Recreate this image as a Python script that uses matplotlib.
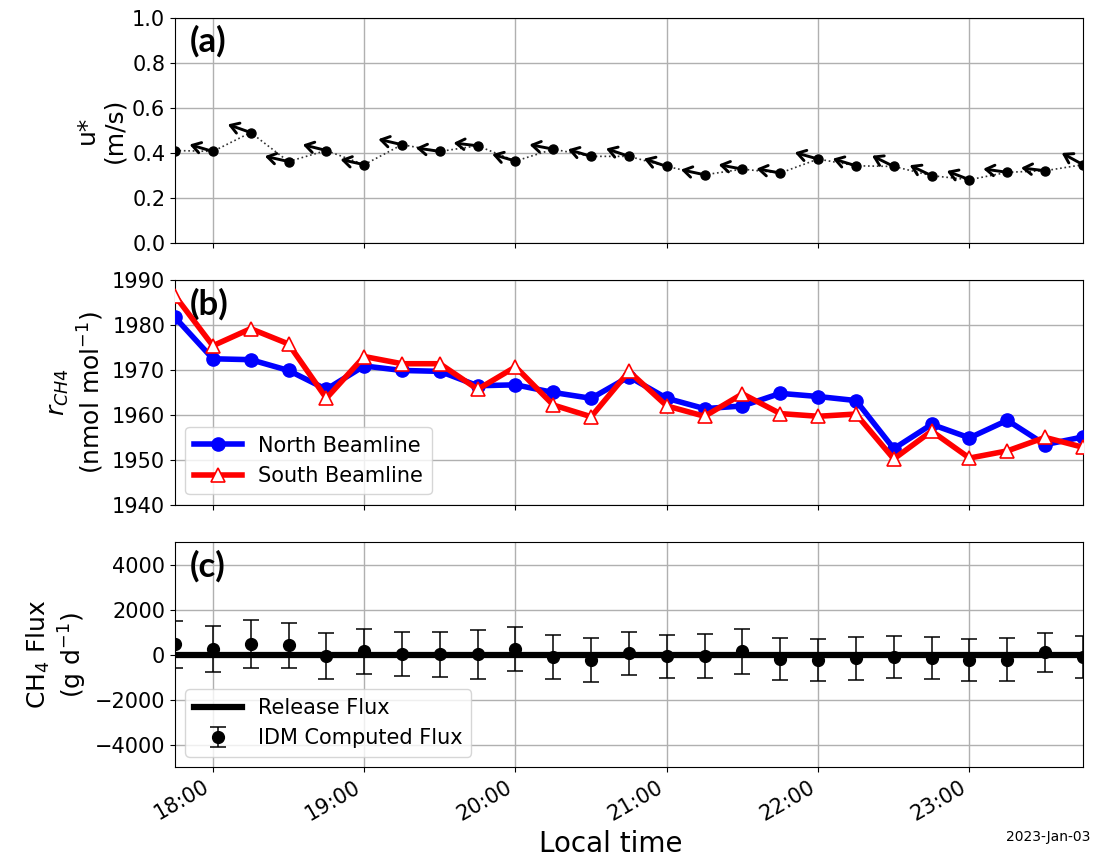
import numpy as np
import pandas as pd
import matplotlib
matplotlib.use("Agg")
import matplotlib.pyplot as plt
import matplotlib.dates as mdates

# ---------------- data ----------------
times = pd.date_range("2023-01-03 17:45", "2023-01-03 23:45", freq="15min")

u_star = [0.41, 0.406, 0.49, 0.361, 0.41, 0.347, 0.436, 0.406, 0.431, 0.363,
          0.416, 0.384, 0.384, 0.339, 0.302, 0.327, 0.31, 0.372, 0.342, 0.339,
          0.298, 0.28, 0.313, 0.32, 0.347]

# wind arrow direction (degrees, counter-clockwise from east)
wind_angle = [165, 163.6, 160.5, 167.4, 166, 167.6, 167, 171.6, 173.2, 163.7,
              169.2, 163.4, 161.3, 161.3, 167.9, 169.3, 170, 164.3, 163.1, 153.8,
              154.5, 159, 171.9, 173.2, 151.2]

north_ch4 = [1981.7, 1972.5, 1972.3, 1969.9, 1965.7, 1970.9, 1969.9, 1969.7, 1966.5, 1966.7,
             1965.0, 1963.7, 1968.5, 1963.7, 1961.4, 1962.0, 1964.8, 1964.1, 1963.2, 1952.5,
             1957.9, 1954.9, 1958.8, 1953.4, 1955.1]

south_ch4 = [1986.5, 1975.4, 1979.2, 1975.8, 1963.7, 1973.0, 1971.4, 1971.4, 1965.7, 1970.7,
             1962.2, 1959.6, 1969.7, 1962.0, 1959.7, 1964.7, 1960.3, 1959.7, 1960.2, 1950.2,
             1956.4, 1950.4, 1952.0, 1955.0, 1952.8]

idm_flux = [458, 249, 480, 413, -44, 155, 44, 13, 22, 242,
            -98, -253, 67, -67, -44, 140, -186, -246, -171, -104,
            -149, -246, -218, 102, -89]

idm_err = [1050, 1022, 1075, 1008, 1022, 1000, 977, 1008, 1089, 971,
           969, 978, 955, 955, 978, 984, 925, 927, 940, 918,
           918, 927, 955, 876, 933]

release_flux = [0] * len(times)

# ---------------- figure ----------------
plt.rcParams['font.family'] = ['DejaVu Sans']
plt.rcParams['mathtext.fontset'] = 'dejavusans'

fig, axes = plt.subplots(3, 1, sharex=True, figsize=(10.98, 8.64), dpi=100)
fig.subplots_adjust(left=0.1594, right=0.9863, top=0.9792, bottom=0.1123, hspace=0.167)
ax1, ax2, ax3 = axes

TICK_FS = 15
LAB_FS = 18
LEG_FS = 15
panel_font = dict(family=['Lato', 'DejaVu Sans'], fontsize=25, fontweight='bold')

# ---- (a) u* with wind arrows ----
ax1.plot(times, u_star, color='#333333', ls=':', lw=1.2, marker='o', ms=6.5,
         mfc='k', mec='k', zorder=3)
L = 17.5
for t, u, ang in zip(times, u_star, wind_angle):
    dx = L * np.cos(np.deg2rad(ang))
    dy = L * np.sin(np.deg2rad(ang))
    ann = ax1.annotate('', xy=(t, u), xytext=(dx, dy), textcoords='offset points',
                       arrowprops=dict(arrowstyle='<-,head_length=0.6,head_width=0.38',
                                       color='k', lw=2.1, shrinkA=0, shrinkB=0))
    ann.arrow_patch.set_clip_box(ax1.bbox)
    ann.arrow_patch.set_clip_on(True)
ax1.set_ylim(0, 1.0)
ax1.set_yticks(np.arange(0, 1.01, 0.2))
ax1.set_ylabel("u*\n(m/s)", fontsize=LAB_FS)
ax1.text(0.016, 0.97, '(a)', transform=ax1.transAxes, va='top', ha='left', **panel_font)

# ---- (b) CH4 mixing ratio ----
ax2.plot(times, north_ch4, color='blue', lw=4, marker='o', ms=9.5, label='North Beamline', zorder=3)
ax2.plot(times, south_ch4, color='red', lw=4, marker='^', ms=10.5, mfc='white', mec='red',
         mew=1.2, label='South Beamline', zorder=4)
ax2.set_ylim(1940, 1990)
ax2.set_yticks(np.arange(1940, 1991, 10))
ax2.set_ylabel("$r_{CH4}$\n(nmol mol$^{-1}$)", fontsize=LAB_FS)
ax2.legend(loc='lower left', fontsize=LEG_FS, framealpha=0.8, handlelength=2.3)
ax2.text(0.016, 0.965, '(b)', transform=ax2.transAxes, va='top', ha='left', **panel_font)

# ---- (c) CH4 flux ----
ax3.plot(times, release_flux, color='k', lw=4.5, label='Release Flux', zorder=2)
ax3.errorbar(times, idm_flux, yerr=idm_err, fmt='o', color='k', ms=8.5, capsize=6,
             elinewidth=1.1, capthick=1.1, label='IDM Computed Flux', zorder=3)
ax3.set_ylim(-5000, 5000)
ax3.set_yticks(np.arange(-4000, 4001, 2000))
ax3.set_ylabel("CH$_4$ Flux\n(g d$^{-1}$)", fontsize=LAB_FS)
ax3.legend(loc='lower left', fontsize=LEG_FS, framealpha=0.8, handlelength=2.3)
ax3.text(0.016, 0.965, '(c)', transform=ax3.transAxes, va='top', ha='left', **panel_font)

for ax in axes:
    ax.grid(True, color='#b0b0b0', lw=1.0)
    ax.set_axisbelow(True)
    ax.tick_params(labelsize=TICK_FS)

ax3.set_xlim(times[0], times[-1])
ax3.xaxis.set_major_locator(mdates.HourLocator())
ax3.xaxis.set_major_formatter(mdates.DateFormatter('%H:%M'))
plt.setp(ax3.get_xticklabels(), rotation=30, ha='right')
ax3.set_xlabel("Local time", fontsize=20)
ax3.xaxis.label.set_x(0.48)

fig.text(0.993, 0.031, "2023-Jan-03", ha='right', va='center', fontsize=10)

fig.savefig("out.png", dpi=100)
